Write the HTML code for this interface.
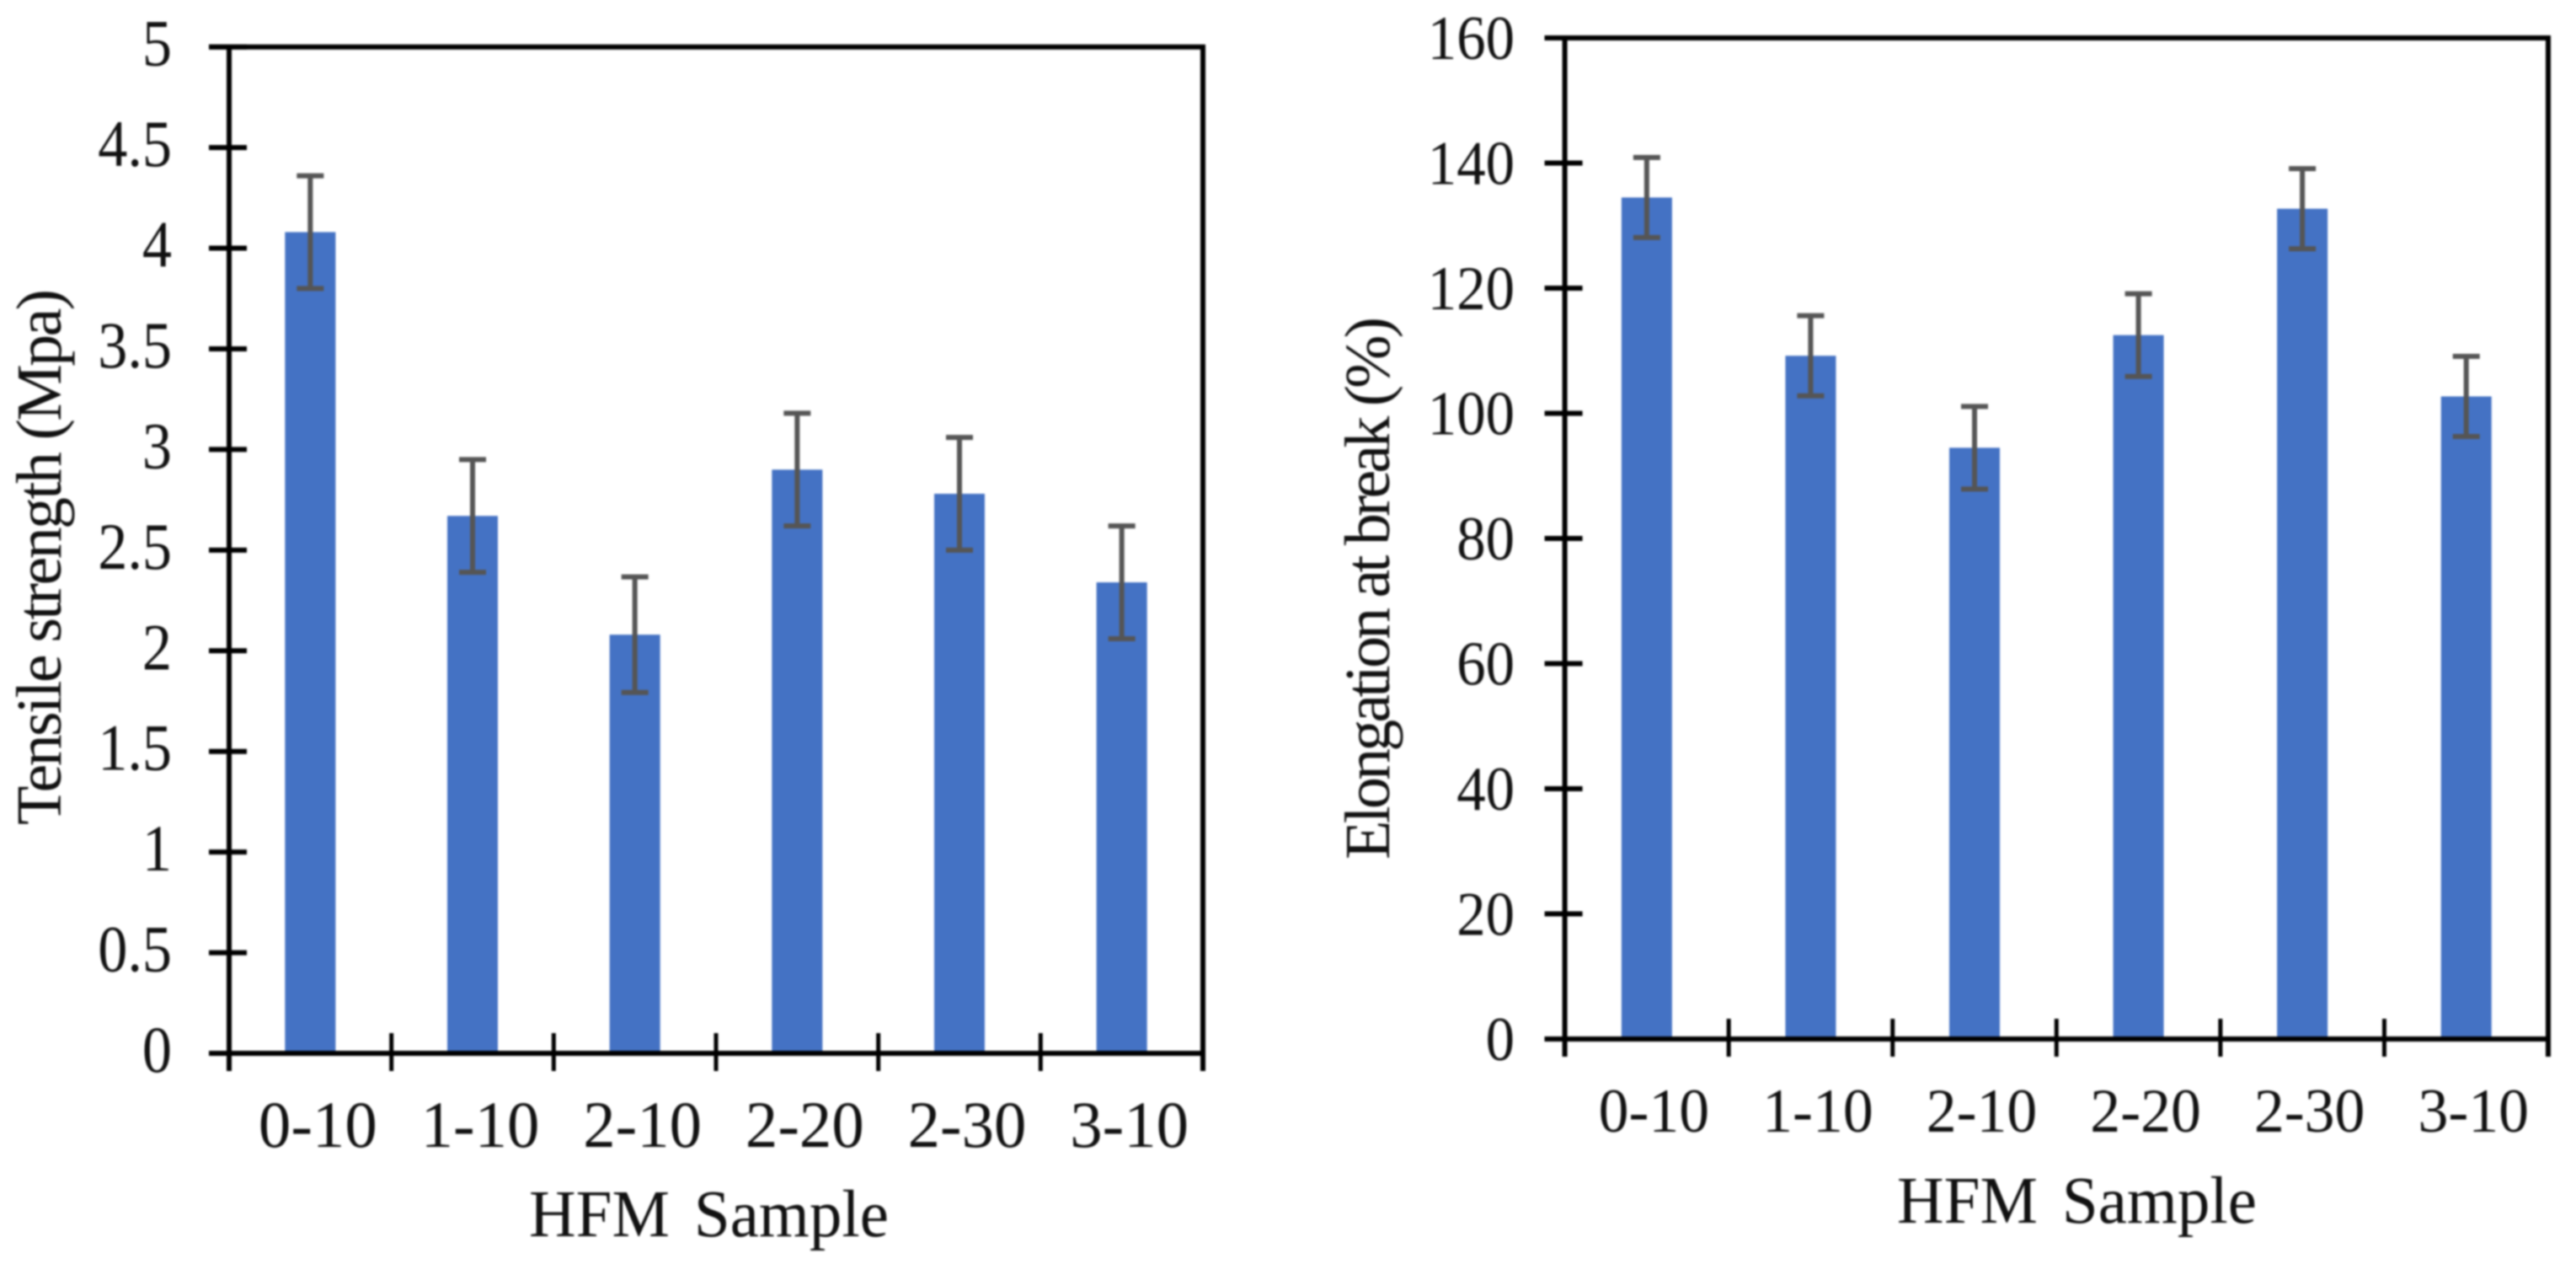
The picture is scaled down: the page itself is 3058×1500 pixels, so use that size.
<!DOCTYPE html>
<html lang="en">
<head>
<meta charset="utf-8">
<title>HFM Sample Tensile Strength and Elongation</title>
<style>
html,body{margin:0;padding:0;background:#fff;width:3058px;height:1500px;overflow:hidden}
svg{display:block;filter:blur(1.1px)}
text{font-family:"Liberation Serif","Times New Roman",serif;fill:#111}
</style>
</head>
<body>
<svg id="figure" xmlns="http://www.w3.org/2000/svg" width="3058" height="1500" viewBox="0 0 3058 1500"></svg>
<script>
const categories = ['0-10', '1-10', '2-10', '2-20', '2-30', '3-10'];
const tensileValues = [4.08, 2.67, 2.08, 2.90, 2.78, 2.34];
const tensileErrors = [0.28, 0.28, 0.287, 0.28, 0.28, 0.28];
const tensileTicks = ['0', '0.5', '1', '1.5', '2', '2.5', '3', '3.5', '4', '4.5', '5'];
const elongationValues = [134.5, 109.2, 94.5, 112.5, 132.7, 102.7];
const elongationErrors = [6.4, 6.4, 6.6, 6.6, 6.4, 6.4];
const elongationTicks = ['0', '20', '40', '60', '80', '100', '120', '140', '160'];

const svg = document.getElementById('figure');
const NS = 'http://www.w3.org/2000/svg';

function make(tag, attrs, parent) {
  const node = document.createElementNS(NS, tag);
  for (const k in attrs) node.setAttribute(k, attrs[k]);
  parent.appendChild(node);
  return node;
}

function drawChart(cfg) {
  const group = make('g', {}, svg);
  
  

  const yMax = Number(cfg.ticks[cfg.ticks.length - 1]);
  const yScale = v => cfg.bottom - (v / yMax) * (cfg.bottom - cfg.top);
  const band = (cfg.right - cfg.left) / cfg.categories.length;
  const xCenter = i => cfg.left + band * (i + 0.5);

  cfg.values.forEach((v, i) => {
    const bar = make('rect', {
      x: xCenter(i) - 30, y: yScale(v), width: 60, height: cfg.bottom - yScale(v), fill: '#4472c4'
    }, group);
    
    

    const hi = yScale(v + cfg.errors[i]);
    const lo = yScale(v - cfg.errors[i]);
    const err = make('path', {
      d: 'M' + (xCenter(i) - 16) + ' ' + hi + 'H' + (xCenter(i) + 16) +
         'M' + xCenter(i) + ' ' + hi + 'V' + lo +
         'M' + (xCenter(i) - 16) + ' ' + lo + 'H' + (xCenter(i) + 16),
      stroke: '#555', 'stroke-width': 6, fill: 'none'
    }, group);
    
    
  });

  const axisPath =
    'M' + (cfg.left - 24) + ' ' + cfg.top + 'H' + cfg.right +
    'V' + (cfg.bottom + 21) +
    'M' + cfg.left + ' ' + cfg.top + 'V' + (cfg.bottom + 21) +
    'M' + (cfg.left - 24) + ' ' + cfg.bottom + 'H' + cfg.right;
  const frame = make('path', { d: axisPath, stroke: '#000', 'stroke-width': 6, fill: 'none' }, group);
  
  

  cfg.ticks.forEach(t => {
    const y = yScale(Number(t));
    const tick = make('line', {
      x1: cfg.left - 24, x2: cfg.left + 21, y1: y, y2: y, stroke: '#000', 'stroke-width': 6
    }, group);
    
    

    const label = make('text', {
      transform: 'translate(' + cfg.yLabelX + ' ' + (y + cfg.yLabelDy) + ') scale(' + cfg.yLabelSx + ' 1)',
      'text-anchor': 'end', 'font-size': cfg.fontSize
    }, group);
    label.textContent = t;
    
    
  });

  cfg.categories.forEach((c, i) => {
    if (i > 0) {
      const x = cfg.left + band * i;
      const tick = make('line', {
        x1: x, x2: x, y1: cfg.bottom - 24, y2: cfg.bottom + 21, stroke: '#000', 'stroke-width': 5
      }, group);
      
      
    }
    const label = make('text', {
      transform: 'translate(' + (xCenter(i) + cfg.xLabelDx) + ' ' + cfg.xLabelY + ') scale(' + cfg.xLabelSx + ' 1)',
      'text-anchor': 'middle', 'font-size': cfg.fontSize
    }, group);
    label.textContent = c;
    
    
  });

  const xTitle = make('text', {
    transform: 'translate(' + cfg.xTitleX + ' ' + cfg.xTitleY + ') scale(0.975 1)',
    'font-size': 79, 'word-spacing': 10
  }, group);
  xTitle.textContent = 'HFM Sample';
  
  

  const yTitle = make('text', {
    transform: 'translate(' + cfg.yTitleX + ' ' + cfg.yTitleEnd + ') rotate(-90)',
    x: 0, y: 0, 'font-size': 76,
    textLength: cfg.yTitleLen, lengthAdjust: 'spacing'
  }, group);
  yTitle.textContent = cfg.yTitle;
  
  
}

drawChart({
  name: 'tensile-strength-chart',
  categories: categories, values: tensileValues, errors: tensileErrors, ticks: tensileTicks,
  left: 272, right: 1428, top: 55.7, bottom: 1250,
  fontSize: 78, yLabelSx: 0.90, xLabelSx: 0.985,
  yLabelX: 204, yLabelDy: 22, xLabelY: 1361, xLabelDx: 9,
  xTitleX: 628, xTitleY: 1467,
  yTitle: 'Tensile strength (Mpa)', yTitleX: 72, yTitleEnd: 979, yTitleLen: 636
});

drawChart({
  name: 'elongation-at-break-chart',
  categories: categories, values: elongationValues, errors: elongationErrors, ticks: elongationTicks,
  left: 1857.6, right: 3025, top: 45, bottom: 1233,
  fontSize: 74, yLabelSx: 0.93, xLabelSx: 0.97,
  yLabelX: 1798, yLabelDy: 25, xLabelY: 1343, xLabelDx: 8.5,
  xTitleX: 2252, xTitleY: 1451,
  yTitle: 'Elongation at break (%)', yTitleX: 1649, yTitleEnd: 1020, yTitleLen: 644
});
</script>
</body>
</html>
